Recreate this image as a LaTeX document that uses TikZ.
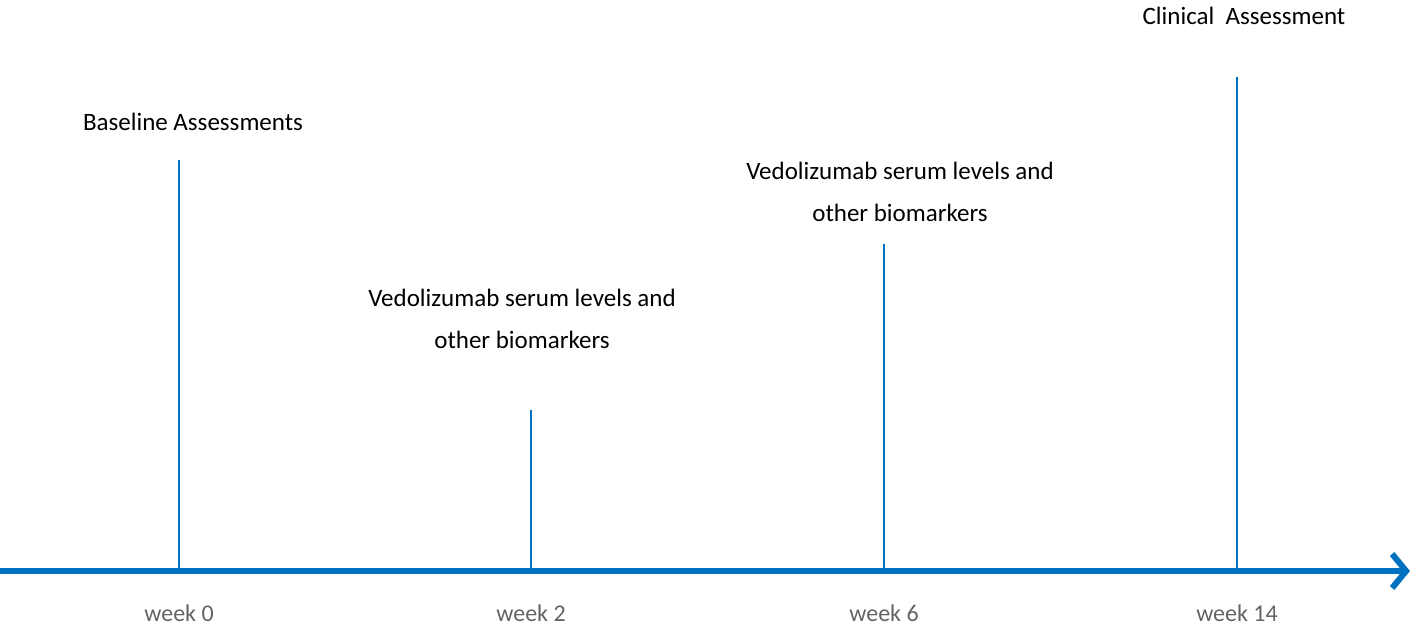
\documentclass[tikz,border=0pt]{standalone}
\usepackage{fontspec}
\setmainfont{Carlito}
\usetikzlibrary{arrows.meta}
\definecolor{axblue}{RGB}{0,112,192}
\definecolor{wkgray}{RGB}{100,100,100}
\tikzset{tick/.style={axblue,line width=2pt},
lbl/.style={font=\fontsize{25}{42}\selectfont,align=center,text=black},
wk/.style={font=\fontsize{24}{28}\selectfont,text=wkgray}}
\begin{document}
\begin{tikzpicture}[x=1pt,y=-1pt]
\useasboundingbox (0,0) rectangle (1416,628);
\coordinate (s) at (0,571);
\coordinate (e) at (1410,571);
\draw[axblue,line width=6pt,-{Straight Barb[length=14pt,width=34pt,line width=6pt]}] (s) -- (e);
\foreach \n/\x/\t in {a/179/160,b/531/410,c/884/244,d/1237/77}{
 \coordinate (\n b) at (\x,571); \coordinate (\n t) at (\x,\t);
 \draw[tick] (\n b) -- (\n t);}
\node[lbl] (l1) at (193,122) {Baseline Assessments};
\node[lbl] (l2) at (522,319) {Vedolizumab serum levels and\\other biomarkers};
\node[lbl] (l3) at (900,192) {Vedolizumab serum levels and\\other biomarkers};
\node[lbl] (l4) at (1244,16) {Clinical\ \ Assessment};
\node[wk] (w0) at (179,613) {week 0};
\node[wk] (w2) at (531,613) {week 2};
\node[wk] (w6) at (884,613) {week 6};
\node[wk] (w14) at (1237,613) {week 14};
\end{tikzpicture}
\end{document}
